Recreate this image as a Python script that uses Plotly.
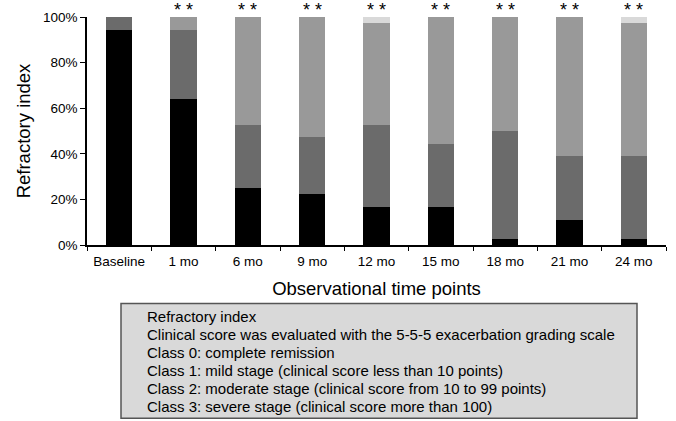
import plotly.graph_objects as go

categories = ["Baseline", "1 mo", "6 mo", "9 mo", "12 mo", "15 mo", "18 mo", "21 mo", "24 mo"]
class3 = [94.4, 63.9, 25.0, 22.2, 16.7, 16.7, 2.8, 11.1, 2.8]
class2 = [5.6, 30.5, 27.8, 25.0, 36.1, 27.7, 47.2, 27.8, 36.1]
class1 = [0.0, 5.6, 47.2, 52.8, 44.4, 55.6, 50.0, 61.1, 58.3]
class0 = [0.0, 0.0, 0.0, 0.0, 2.8, 0.0, 0.0, 0.0, 2.8]
significance = ["", "* *", "* *", "* *", "* *", "* *", "* *", "* *", "* *"]
y_ticks = [0, 20, 40, 60, 80, 100]
legend_lines = [
    "Refractory index",
    "Clinical score was evaluated with the 5-5-5 exacerbation grading scale",
    "Class 0: complete remission",
    "Class 1: mild stage (clinical score less than 10 points)",
    "Class 2: moderate stage (clinical score from 10 to 99 points)",
    "Class 3: severe stage (clinical score more than 100)",
]

W, H = 676, 421
L, R, T, B = 87, 10, 14.7, 176
pw, ph = W - L - R, H - T - B

def px_x(x):
    return (x - L) / pw

def px_y(y):
    return (H - B - y) / ph

FONT = "Liberation Sans, Arial, sans-serif"
fig = go.Figure()
for name, vals, col in [
    ("Class 3", class3, "#000000"),
    ("Class 2", class2, "#6b6b6b"),
    ("Class 1", class1, "#999999"),
    ("Class 0", class0, "#d9d9d9"),
]:
    fig.add_trace(go.Bar(x=categories, y=vals, name=name, marker=dict(color=col, line=dict(width=0))))

for c, s in zip(categories, significance):
    if s:
        fig.add_annotation(x=c, xref="x", y=px_y(8), yref="paper", text=s, showarrow=False,
                           yanchor="middle", font=dict(size=18, color="black", family=FONT))

fig.add_shape(type="rect", xref="paper", yref="paper",
              x0=px_x(121), x1=px_x(637), y0=px_y(420), y1=px_y(304),
              fillcolor="#d9d9d9", line=dict(color="#555555", width=1.5))
for i, line in enumerate(legend_lines):
    fig.add_annotation(xref="paper", yref="paper", x=px_x(145), y=px_y(317 + i * 18.2),
                       text=line, showarrow=False, xanchor="left", yanchor="middle",
                       font=dict(size=15, color="black", family=FONT))

fig.update_layout(
    barmode="stack",
    bargap=0.59,
    width=W, height=H,
    margin=dict(l=L, r=R, t=T, b=B),
    plot_bgcolor="white", paper_bgcolor="white",
    showlegend=False,
    font=dict(family=FONT, color="black"),
)
fig.update_xaxes(
    showline=True, linecolor="black", linewidth=1.5,
    ticks="outside", tickson="boundaries", ticklen=4, tickcolor="black",
    tickfont=dict(size=13.5), ticklabelstandoff=3,
    title=dict(text="Observational time points", font=dict(size=18.5), standoff=14),
)
fig.update_yaxes(
    range=[0, 100], tickvals=y_ticks, ticktext=[f"{v}%" for v in y_ticks],
    showline=True, linecolor="black", linewidth=1.5, showgrid=False, zeroline=False,
    ticks="outside", ticklen=5, tickcolor="black", tickfont=dict(size=13.5),
    title=dict(text="Refractory index", font=dict(size=18.5), standoff=8),
)
fig.write_html("out.html")
